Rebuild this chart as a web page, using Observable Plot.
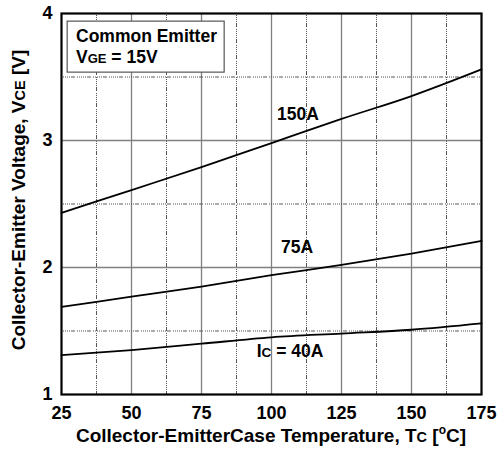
<!DOCTYPE html>
<html><head><meta charset="utf-8">
<script src="https://cdn.jsdelivr.net/npm/d3@7"></script>
<script src="https://cdn.jsdelivr.net/npm/@observablehq/plot@0.6"></script>
<style>
body{margin:0;background:#fff;}
svg text{font-family:"Liberation Sans",Arial,sans-serif;font-weight:bold;}
</style>
</head><body><div id="chart"></div>
<script>
const temps = [25, 50, 75, 100, 125, 150, 175];
const v150 = [2.43, 2.61, 2.79, 2.98, 3.17, 3.35, 3.56];
const v75  = [1.69, 1.77, 1.85, 1.94, 2.02, 2.11, 2.21];
const v40  = [1.31, 1.35, 1.40, 1.45, 1.48, 1.51, 1.56];
const xTicks = [25, 50, 75, 100, 125, 150, 175];
const yTicks = [1, 2, 3, 4];
const xMajorGrid = [50, 75, 100, 125, 150];
const xMinorGrid = [37.5, 62.5, 87.5, 112.5, 137.5, 162.5];
const yMajorGrid = [2, 3];
const yMinorGrid = [1.5, 2.5, 3.5];

const series = [
  {name: "150A", v: v150},
  {name: "75A", v: v75},
  {name: "40A", v: v40}
];
const rows = series.flatMap(s => temps.map((t, i) => ({T: t, V: s.v[i], s: s.name})));

const dash = "1,1,1,1,1,1,1,1,1,1,4,2";
const chart = Plot.plot({
  width: 498, height: 450,
  marginLeft: 61, marginRight: 17, marginTop: 13, marginBottom: 56,
  x: {domain: [25, 175], ticks: xTicks, label: null},
  y: {domain: [1, 4], ticks: yTicks, label: null},
  style: {fontFamily: "Liberation Sans, Arial, sans-serif"},
  marks: [
    Plot.ruleX(xMinorGrid, {stroke: "#555", strokeDasharray: dash, strokeWidth: 1}),
    Plot.ruleX(xMajorGrid, {stroke: "#808080", strokeWidth: 1.3}),
    Plot.ruleY(yMinorGrid, {stroke: "#555", strokeDasharray: dash, strokeWidth: 1}),
    Plot.ruleY(yMajorGrid, {stroke: "#808080", strokeWidth: 1.3}),
    Plot.line(rows, {x: "T", y: "V", z: "s", stroke: "#000", strokeWidth: 1.8, curve: "monotone-x"}),
    Plot.frame({stroke: "#000", strokeWidth: 2.2}),
    Plot.axisX({ticks: xTicks, tickSize: 0, tickPadding: 12, fontSize: 18, fontWeight: "bold", fill: "#000", label: null, tickFormat: d3.format("d")}),
    Plot.axisY({ticks: yTicks, tickSize: 0, tickPadding: 9, fontSize: 18, fontWeight: "bold", fill: "#000", label: null, tickFormat: d3.format("d")})
  ]
});
document.getElementById("chart").appendChild(chart);

const svg = d3.select(chart);
const sx = chart.scale("x"), sy = chart.scale("y");

// legend box
const box = svg.append("g").attr("text-anchor", "start");
box.append("rect").attr("x", sx.apply(27.2)).attr("y", sy.apply(3.936)).attr("width", 157).attr("height", 51)
  .attr("fill", "#fff").attr("stroke", "#555").attr("stroke-width", 1.2);
box.append("text").attr("x", 76).attr("y", 42).attr("font-size", 17.5).text("Common Emitter");
const t2 = box.append("text").attr("x", 76).attr("y", 63).attr("font-size", 17.5);
t2.append("tspan").text("V");
t2.append("tspan").attr("font-size", 13).text("GE");
t2.append("tspan").text(" = 15V");

// curve labels
const lab = (T, V, parts) => {
  const t = svg.append("text").attr("x", sx.apply(T)).attr("y", sy.apply(V)).attr("text-anchor", "middle").attr("font-size", 17.5);
  parts.forEach(p => t.append("tspan").attr("font-size", p[1]).text(p[0]));
};
lab(109.6, 3.16, [["150A", 17.5]]);
lab(109.3, 2.11, [["75A", 17.5]]);
lab(106.8, 1.291, [["I", 17.5], ["C", 13.5], [" = 40A", 17.5]]);

// axis titles
const xt = svg.append("text").attr("x", 271).attr("y", 442).attr("text-anchor", "middle").attr("font-size", 19);
xt.append("tspan").text("Collector-EmitterCase Temperature, T");
xt.append("tspan").attr("font-size", 14.5).text("C");
xt.append("tspan").text(" [");
xt.append("tspan").attr("font-size", 12).attr("dy", -8).text("o");
xt.append("tspan").attr("dy", 8).text("C]");

const yt = svg.append("text").attr("transform", "translate(25,200) rotate(-90)").attr("text-anchor", "middle").attr("font-size", 19);
yt.append("tspan").text("Collector-Emitter Voltage, V");
yt.append("tspan").attr("font-size", 14.5).text("CE");
yt.append("tspan").text(" [V]");
</script></body></html>
